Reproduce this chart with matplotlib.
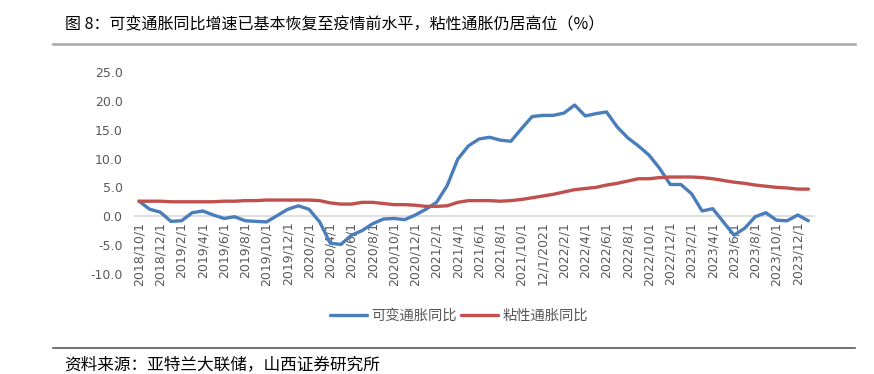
import pandas as pd
import numpy as np
import matplotlib
matplotlib.use('Agg')
import matplotlib.pyplot as plt
from matplotlib.lines import Line2D

plt.rcParams['font.family'] = ['Noto Sans CJK SC', 'DejaVu Sans']

# monthly, 2018/10 .. 2024/1
months = pd.date_range('2018-10-01', '2024-01-01', freq='MS')
labels = [f'{d.year}/{d.month}/1' for d in months]
labels[38] = '12/1/2021'   # odd label as in the source chart

flexible = [2.6, 1.2, 0.7, -0.9, -0.8, 0.6, 0.9, 0.2, -0.4, -0.1,
            -0.8, -0.9, -1.0, 0.1, 1.2, 1.8, 1.2, -1.0, -4.7, -4.9,
            -3.3, -2.5, -1.3, -0.5, -0.4, -0.6, 0.2, 1.2, 2.4, 5.3,
            9.9, 12.2, 13.4, 13.7, 13.2, 13.0, 15.2, 17.3, 17.5, 17.5,
            17.9, 19.3, 17.4, 17.8, 18.1, 15.5, 13.6, 12.2, 10.6, 8.3,
            5.5, 5.5, 3.9, 0.9, 1.3, -1.0, -3.3, -2.1, -0.1, 0.6,
            -0.7, -0.8, 0.2, -0.8]
sticky = [2.6, 2.6, 2.6, 2.5, 2.5, 2.5, 2.5, 2.5, 2.6, 2.6,
          2.7, 2.7, 2.8, 2.8, 2.8, 2.8, 2.8, 2.7, 2.3, 2.1,
          2.1, 2.4, 2.4, 2.2, 2.0, 2.0, 1.9, 1.7, 1.7, 1.8,
          2.4, 2.7, 2.7, 2.7, 2.6, 2.7, 2.9, 3.2, 3.5, 3.8,
          4.2, 4.6, 4.8, 5.0, 5.4, 5.7, 6.1, 6.5, 6.5, 6.7,
          6.8, 6.8, 6.8, 6.7, 6.5, 6.2, 5.9, 5.7, 5.4, 5.2,
          5.0, 4.9, 4.7, 4.7]

x = np.arange(len(labels))

fig = plt.figure(figsize=(8.74, 3.74), dpi=100)
ax = fig.add_axes([0.153, 0.268, 0.778, 0.539])

ax.plot(x, flexible, color='#4A7EBB', lw=2.4, label='可变通胀同比', solid_capstyle='round')
ax.plot(x, sticky, color='#C0504D', lw=2.4, label='粘性通胀同比', solid_capstyle='round')

ax.set_xlim(-0.5, len(labels) - 0.5)
ax.set_ylim(-10, 25)
ax.set_yticks(np.arange(-10, 26, 5))
ax.set_yticklabels([f'{v:.1f}' for v in np.arange(-10, 26, 5)])
ax.set_xticks(x[::2])
ax.set_xticklabels(labels[::2])

for s in ['top', 'right', 'left']:
    ax.spines[s].set_visible(False)
ax.spines['bottom'].set_position(('data', 0))
ax.spines['bottom'].set_color('#d9d9d9')
ax.spines['bottom'].set_linewidth(1.2)
ax.spines['bottom'].set_zorder(0)
ax.tick_params(axis='both', length=0, labelsize=9, colors='#595959', labelfontfamily='DejaVu Sans')
ax.tick_params(axis='x', pad=4, labelrotation=90)
ax.tick_params(axis='y', pad=8)

fig.legend(loc='center', bbox_to_anchor=(0.525, 0.155), ncol=2, frameon=False,
           handlelength=2.6, handletextpad=0.3, columnspacing=0.3,
           prop={'size': 10.3}, labelcolor='#595959')

fig.text(0.074, 0.933, '图 8：可变通胀同比增速已基本恢复至疫情前水平，粘性通胀仍居高位（%）',
         fontsize=11.5, va='center', ha='left', color='black')
fig.add_artist(Line2D([0.061, 0.978], [0.883, 0.883], color='#a6a6a6', lw=1.8))
fig.add_artist(Line2D([0.061, 0.978], [0.070, 0.070], color='#595959', lw=1.2))
fig.text(0.074, 0.025, '资料来源：亚特兰大联储，山西证券研究所',
         fontsize=12, va='center', ha='left', color='black')

fig.savefig('out.png', dpi=100)
